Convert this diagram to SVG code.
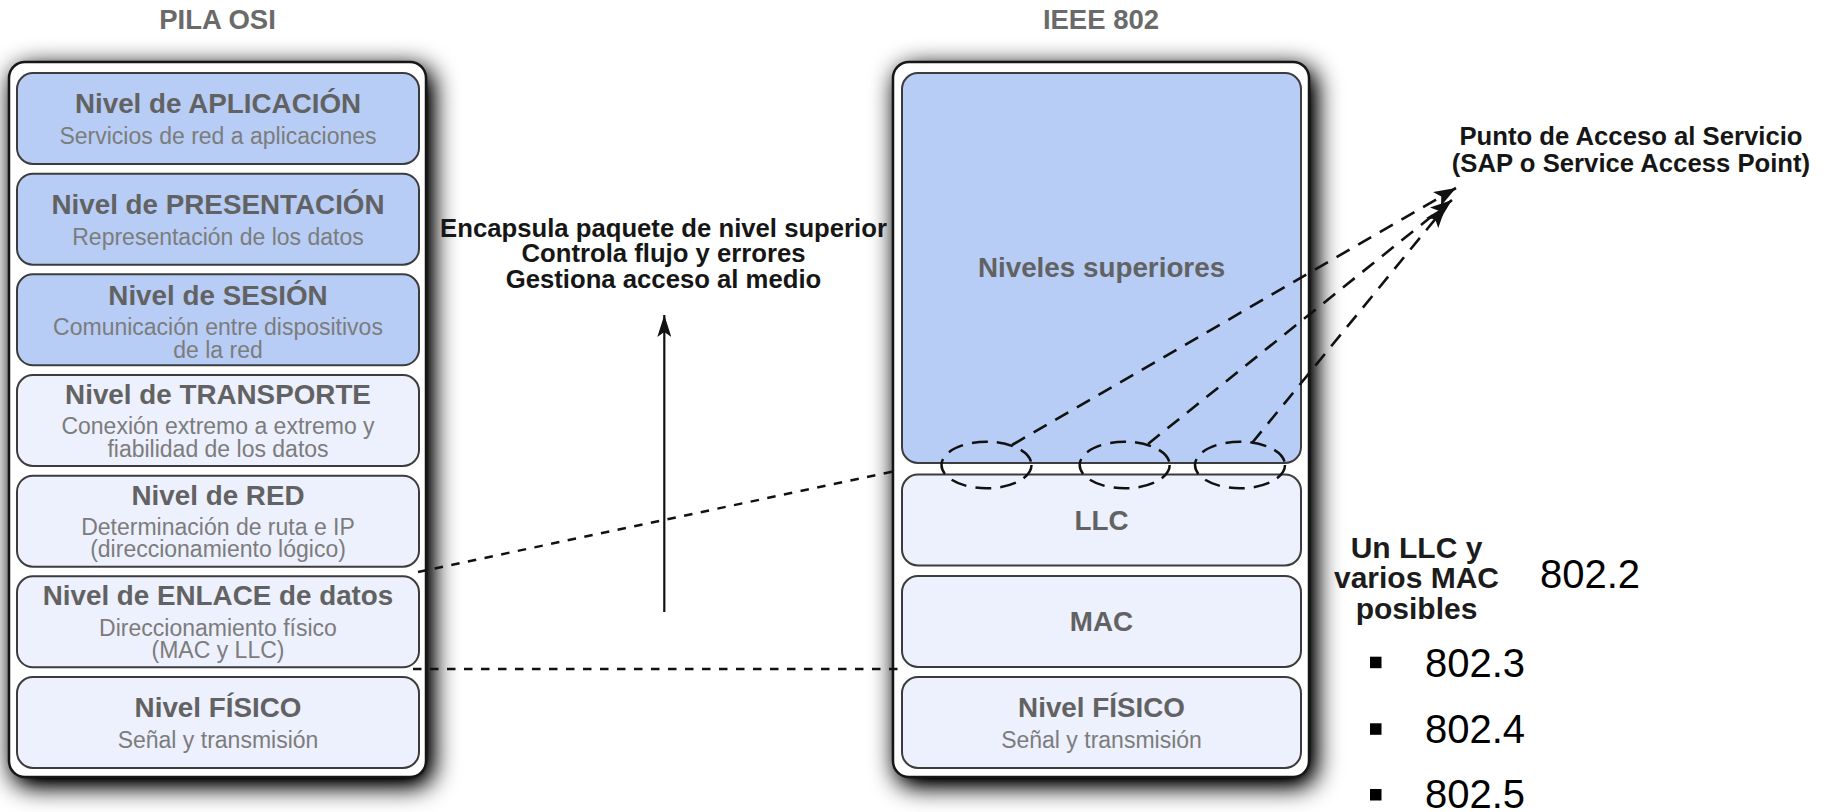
<svg xmlns="http://www.w3.org/2000/svg" width="1843" height="812" viewBox="0 0 1843 812">
  <defs>
    <filter id="stackShadow" x="-25%" y="-20%" width="150%" height="140%">
      <feGaussianBlur in="SourceAlpha" stdDeviation="13"/>
      <feOffset dx="5" dy="7" result="blur"/>
      <feComponentTransfer><feFuncA type="linear" slope="1.35"/></feComponentTransfer>
      <feMerge><feMergeNode/><feMergeNode in="SourceGraphic"/></feMerge>
    </filter>
    <marker id="arrowSolid" viewBox="0 0 22 14" refX="22" refY="7" markerWidth="22" markerHeight="14" markerUnits="userSpaceOnUse" orient="auto">
      <path d="M0,0 L22,7 L0,14 L5,7 z" fill="#111"/>
    </marker>
    <marker id="arrowSap" viewBox="0 0 22 16" refX="22" refY="8" markerWidth="22" markerHeight="16" markerUnits="userSpaceOnUse" orient="auto">
      <path d="M0,0 L22,8 L0,16 L5,8 z" fill="#111"/>
    </marker>
    <style>
      .outer { fill: #ffffff; stroke: #151515; stroke-width: 2.5; }
      .upper { fill: #b7cdf5; stroke: #3c3c3c; stroke-width: 2; }
      .lower { fill: #edf0fd; stroke: #3c3c3c; stroke-width: 2; }
      .head { font-family: "Liberation Sans", Arial, sans-serif; font-weight: bold; font-size: 27.5px; fill: #6a6a6a; text-anchor: middle; }
      .title { font-family: "Liberation Sans", Arial, sans-serif; font-weight: bold; font-size: 27.8px; fill: #626262; text-anchor: middle; }
      .sub { font-family: "Liberation Sans", Arial, sans-serif; font-size: 23px; fill: #7c7c7c; text-anchor: middle; }
      .note { font-family: "Liberation Sans", Arial, sans-serif; font-weight: bold; font-size: 25.7px; fill: #161616; text-anchor: middle; }
      .note2 { font-family: "Liberation Sans", Arial, sans-serif; font-weight: bold; font-size: 30px; fill: #1c1c1c; text-anchor: middle; }
      .std { font-family: "Liberation Sans", Arial, sans-serif; font-size: 40px; fill: #000000; }
      .dashLong { fill: none; stroke: #111; stroke-width: 2.6; stroke-dasharray: 15 10; }
      .dashShort { fill: none; stroke: #111; stroke-width: 2.5; stroke-dasharray: 8.5 8.5; }
      .ring { fill: none; stroke: #111; stroke-width: 2.5; stroke-dasharray: 16 9; }
    </style>
  </defs>

  <rect width="1843" height="812" fill="#ffffff"/>

  <!-- OSI stack -->
  <g id="osi-stack">
    <text class="head" x="217.5" y="29">PILA OSI</text>
    <rect class="outer" x="9" y="62" width="417" height="715" rx="16" filter="url(#stackShadow)"/>

    <g id="osi-aplicacion">
      <rect class="upper" x="17" y="73" width="402" height="91" rx="16"/>
      <text class="title" x="218" y="113">Nivel de APLICACIÓN</text>
      <text class="sub" x="218" y="144">Servicios de red a aplicaciones</text>
    </g>
    <g id="osi-presentacion">
      <rect class="upper" x="17" y="173.7" width="402" height="91" rx="16"/>
      <text class="title" x="218" y="213.5">Nivel de PRESENTACIÓN</text>
      <text class="sub" x="218" y="244.7">Representación de los datos</text>
    </g>
    <g id="osi-sesion">
      <rect class="upper" x="17" y="274.3" width="402" height="91" rx="16"/>
      <text class="title" x="218" y="305">Nivel de SESIÓN</text>
      <text class="sub" x="218" y="335">Comunicación entre dispositivos</text>
      <text class="sub" x="218" y="358">de la red</text>
    </g>
    <g id="osi-transporte">
      <rect class="lower" x="17" y="375" width="402" height="91" rx="16"/>
      <text class="title" x="218" y="403.5">Nivel de TRANSPORTE</text>
      <text class="sub" x="218" y="433.5">Conexión extremo a extremo y</text>
      <text class="sub" x="218" y="457">fiabilidad de los datos</text>
    </g>
    <g id="osi-red">
      <rect class="lower" x="17" y="475.7" width="402" height="91" rx="16"/>
      <text class="title" x="218" y="504.5">Nivel de RED</text>
      <text class="sub" x="218" y="535">Determinación de ruta e IP</text>
      <text class="sub" x="218" y="557">(direccionamiento lógico)</text>
    </g>
    <g id="osi-enlace">
      <rect class="lower" x="17" y="576.3" width="402" height="91" rx="16"/>
      <text class="title" x="218" y="605">Nivel de ENLACE de datos</text>
      <text class="sub" x="218" y="635.5">Direccionamiento físico</text>
      <text class="sub" x="218" y="657.5">(MAC y LLC)</text>
    </g>
    <g id="osi-fisico">
      <rect class="lower" x="17" y="677" width="402" height="91" rx="16"/>
      <text class="title" x="218" y="716.7">Nivel FÍSICO</text>
      <text class="sub" x="218" y="747.7">Señal y transmisión</text>
    </g>
  </g>

  <!-- IEEE 802 stack -->
  <g id="ieee-stack">
    <text class="head" x="1101" y="29">IEEE 802</text>
    <rect class="outer" x="893" y="62" width="416" height="715" rx="16" filter="url(#stackShadow)"/>

    <g id="ieee-superiores">
      <rect class="upper" x="902" y="73" width="399" height="390" rx="16"/>
      <text class="title" x="1101.5" y="277">Niveles superiores</text>
    </g>
    <g id="ieee-llc">
      <rect class="lower" x="902" y="474.5" width="399" height="91" rx="16"/>
      <text class="title" x="1101.5" y="530">LLC</text>
    </g>
    <g id="ieee-mac">
      <rect class="lower" x="902" y="576" width="399" height="91" rx="16"/>
      <text class="title" x="1101.5" y="631">MAC</text>
    </g>
    <g id="ieee-fisico">
      <rect class="lower" x="902" y="677" width="399" height="91" rx="16"/>
      <text class="title" x="1101.5" y="716.7">Nivel FÍSICO</text>
      <text class="sub" x="1101.5" y="748">Señal y transmisión</text>
    </g>

    <!-- service access points on the LLC boundary -->
    <g id="sap-rings">
      <ellipse class="ring" cx="986.5" cy="465" rx="45" ry="23.3"/>
      <ellipse class="ring" cx="1124.7" cy="465" rx="45" ry="23.3"/>
      <ellipse class="ring" cx="1240" cy="465" rx="45" ry="23.3"/>
    </g>
  </g>

  <!-- side labels -->
  <g id="label-enlace">
    <text class="note" x="663.5" y="236.7">Encapsula paquete de nivel superior</text>
    <text class="note" x="663.5" y="262">Controla flujo y errores</text>
    <text class="note" x="663.5" y="287.5">Gestiona acceso al medio</text>
  </g>
  <g id="label-sap">
    <text class="note" x="1631" y="145">Punto de Acceso al Servicio</text>
    <text class="note" x="1631" y="171.5">(SAP o Service Access Point)</text>
  </g>
  <g id="label-llc-mac">
    <text class="note2" x="1416.5" y="558.3">Un LLC y</text>
    <text class="note2" x="1416.5" y="588.3">varios MAC</text>
    <text class="note2" x="1416.5" y="618.5">posibles</text>
    <text class="std" x="1540" y="588.3">802.2</text>
    <rect x="1370" y="656.7" width="11.5" height="11.5" fill="#000"/>
    <text class="std" x="1425" y="676.7">802.3</text>
    <rect x="1370" y="723.3" width="11.5" height="11.5" fill="#000"/>
    <text class="std" x="1425" y="743.3">802.4</text>
    <rect x="1370" y="789" width="11.5" height="11.5" fill="#000"/>
    <text class="std" x="1425" y="808.3">802.5</text>
  </g>

  <!-- connectors -->
  <g id="connectors">
    <line x1="664.3" y1="612" x2="664.3" y2="315" stroke="#111" stroke-width="2.2" marker-end="url(#arrowSolid)"/>
    <line class="dashShort" x1="418" y1="572" x2="900" y2="470"/>
    <line class="dashShort" x1="413" y1="669" x2="900" y2="669"/>
    <line class="dashLong" x1="1012" y1="445" x2="1456" y2="188" marker-end="url(#arrowSap)"/>
    <line class="dashLong" x1="1148" y1="444" x2="1452" y2="200" marker-end="url(#arrowSap)"/>
    <line class="dashLong" x1="1252" y1="443" x2="1446" y2="206" marker-end="url(#arrowSap)"/>
  </g>
</svg>
